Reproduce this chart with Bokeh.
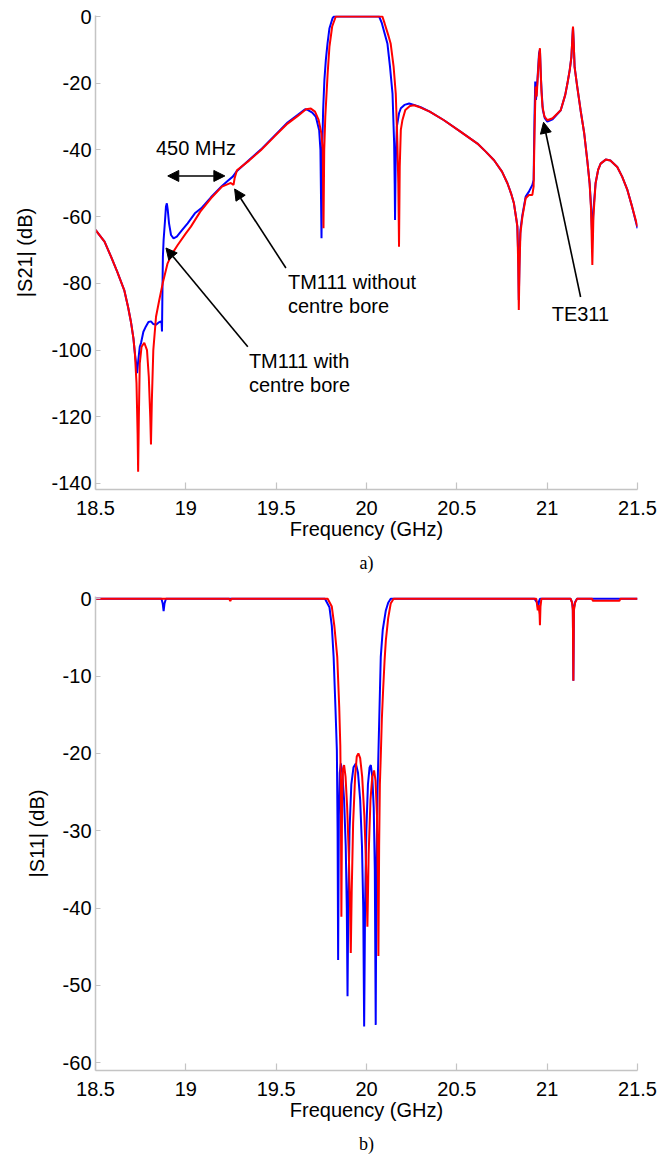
from bokeh.plotting import figure
from bokeh.layouts import column
from bokeh.models import Range1d, FixedTicker, NumeralTickFormatter, Label, Arrow, NormalHead
from bokeh.embed import file_html
from bokeh.resources import INLINE

# ---------------- data ----------------
x_ticks = [18.5, 19, 19.5, 20, 20.5, 21, 21.5]
s21_ticks = [0, -20, -40, -60, -80, -100, -120, -140]
s11_ticks = [0, -10, -20, -30, -40, -50, -60]

# |S21| with centre bore (blue)
s21_blue_f = [18.50, 18.55, 18.586, 18.62, 18.659, 18.68, 18.696, 18.71, 18.718, 18.725, 18.730, 18.737,
              18.745, 18.752, 18.765, 18.779, 18.793, 18.807, 18.820, 18.835, 18.848, 18.862, 18.866, 18.868,
              18.870, 18.873, 18.877, 18.885, 18.890, 18.895, 18.900, 18.907, 18.918, 18.932, 18.95, 18.98,
              19.01, 19.05, 19.085, 19.139, 19.20, 19.231, 19.26, 19.283, 19.35, 19.415, 19.49, 19.563, 19.62,
              19.660, 19.674, 19.700, 19.720, 19.738, 19.745, 19.751, 19.755, 19.760, 19.767, 19.775, 19.784,
              19.795, 19.812, 19.82, 20.070, 20.085, 20.10, 20.116, 20.130, 20.144, 20.153, 20.156, 20.158,
              20.161, 20.168, 20.180, 20.190, 20.210, 20.236, 20.263, 20.30, 20.35, 20.429, 20.52, 20.614,
              20.66, 20.706, 20.75, 20.78, 20.80, 20.816, 20.83, 20.835, 20.840, 20.843, 20.847, 20.852,
              20.863, 20.881, 20.899, 20.918, 20.925, 20.930, 20.934, 20.938, 20.945, 20.955, 20.960, 20.965,
              20.970, 20.976, 20.987, 21.001, 21.03, 21.075, 21.10, 21.112, 21.125, 21.134, 21.140, 21.143,
              21.147, 21.152, 21.165, 21.185, 21.205, 21.222, 21.235, 21.243, 21.250, 21.256, 21.268, 21.282,
              21.296, 21.324, 21.35, 21.388, 21.415, 21.444, 21.47, 21.50]
s21_blue_db = [-64.0, -67.5, -72.0, -76.5, -82.0, -87.0, -91.5, -96.5, -101.0, -104.0, -106.9, -103.0,
               -99.0, -97.9, -94.5, -92.9, -91.6, -91.4, -92.2, -92.4, -91.8, -91.4, -92.0, -94.4,
               -85.0, -72.0, -67.0, -61.0, -57.0, -56.0, -58.0, -62.0, -65.5, -66.5, -66.0, -64.0,
               -62.0, -59.0, -57.5, -54.2, -50.8, -49.3, -48.0, -46.3, -43.0, -39.9, -35.8, -31.8, -29.5,
               -27.8, -28.0, -28.8, -30.1, -34.1, -40.0, -66.5, -40.0, -28.0, -19.0, -13.0, -8.2,
               -3.5, -0.5, 0.0, 0.0, -2.0, -5.0, -8.2, -15.0, -23.1, -38.1, -50.0, -61.0,
               -45.0, -33.0, -29.0, -27.5, -26.5, -26.1, -26.5, -27.2, -28.5, -31.1, -34.5, -38.1,
               -40.5, -43.1, -46.5, -50.0, -53.0, -56.0, -61.0, -63.0, -72.0, -85.0, -72.0, -64.0,
               -59.5, -54.0, -52.5, -50.5, -49.0, -30.0, -19.5, -25.0, -20.0, -11.0, -10.0, -18.0,
               -23.0, -28.0, -30.5, -31.5, -30.8, -28.1, -23.5, -20.1, -16.0, -12.2, -6.0, -3.2,
               -8.0, -15.2, -20.5, -28.1, -35.0, -43.1, -50.0, -57.0, -67.0, -58.0, -50.0, -46.0,
               -44.1, -42.9, -43.2, -45.1, -48.0, -52.0, -57.0, -63.5]

# |S21| without centre bore (red)
s21_red_f = [18.50, 18.55, 18.586, 18.62, 18.659, 18.68, 18.696, 18.71, 18.718, 18.727, 18.733, 18.736,
             18.740, 18.745, 18.755, 18.77, 18.785, 18.795, 18.803, 18.807, 18.812, 18.82, 18.835, 18.853,
             18.872, 18.899, 18.925, 18.955, 19.00, 19.028, 19.08, 19.139, 19.20, 19.249, 19.264, 19.270,
             19.283, 19.35, 19.415, 19.49, 19.563, 19.62, 19.665, 19.692, 19.715, 19.735, 19.750, 19.758,
             19.762, 19.766, 19.772, 19.785, 19.795, 19.81, 19.83, 20.088, 20.10, 20.12, 20.134, 20.150,
             20.162, 20.171, 20.176, 20.180, 20.184, 20.190, 20.199, 20.215, 20.240, 20.263, 20.30, 20.35,
             20.429, 20.52, 20.614, 20.66, 20.706, 20.75, 20.78, 20.80, 20.816, 20.83, 20.835, 20.840,
             20.843, 20.847, 20.852, 20.863, 20.881, 20.899, 20.918, 20.925, 20.930, 20.936, 20.942, 20.948,
             20.955, 20.960, 20.964, 20.968, 20.974, 20.985, 21.001, 21.03, 21.075, 21.10, 21.112, 21.125,
             21.134, 21.140, 21.143, 21.147, 21.152, 21.165, 21.185, 21.205, 21.222, 21.235, 21.243, 21.250,
             21.256, 21.268, 21.282, 21.296, 21.324, 21.35, 21.388, 21.415, 21.444, 21.47, 21.50]
s21_red_db = [-64.0, -67.5, -72.0, -76.5, -82.0, -87.0, -91.5, -96.5, -101.0, -110.0, -125.0, -136.5,
              -120.0, -104.0, -99.0, -97.8, -100.0, -108.0, -120.0, -128.3, -115.0, -100.0, -90.0, -85.0,
              -80.0, -74.0, -71.0, -68.5, -65.0, -63.0, -58.5, -54.5, -51.0, -49.9, -50.5, -48.5,
              -46.1, -43.2, -40.1, -36.0, -32.1, -29.8, -27.8, -27.6, -28.5, -31.0, -35.0, -40.0,
              -63.5, -40.0, -30.0, -17.0, -9.0, -3.0, 0.0, 0.0, -2.0, -5.5, -8.2, -15.0,
              -23.1, -38.1, -50.0, -69.0, -45.0, -34.0, -31.0, -28.0, -26.8, -26.6, -27.3, -28.5,
              -31.1, -34.5, -38.1, -40.5, -43.1, -46.5, -50.0, -53.0, -56.0, -61.0, -63.0, -75.0,
              -88.0, -75.0, -65.0, -60.0, -54.5, -53.5, -53.5, -51.0, -35.0, -21.0, -24.0, -18.0,
              -12.0, -9.5, -16.0, -22.0, -27.0, -30.0, -31.1, -30.5, -28.1, -23.5, -20.1, -16.0,
              -12.2, -6.0, -3.0, -8.0, -15.2, -20.5, -28.1, -35.0, -43.1, -50.0, -58.0, -74.5,
              -60.0, -50.0, -46.0, -44.1, -42.9, -43.2, -45.1, -48.0, -52.0, -57.0, -63.0]

# |S11| with centre bore (blue)
s11_blue_f = [18.50, 18.865, 18.872, 18.877, 18.882, 18.89, 19.77, 19.795, 19.808, 19.818, 19.828, 19.836,
              19.840, 19.843, 19.847, 19.852, 19.858, 19.866, 19.876, 19.885, 19.891, 19.895, 19.899, 19.906,
              19.916, 19.928, 19.941, 19.953, 19.965, 19.975, 19.982, 19.987, 19.992, 19.999, 20.008, 20.017,
              20.024, 20.032, 20.040, 20.046, 20.051, 20.055, 20.061, 20.070, 20.079, 20.090, 20.107, 20.12,
              20.134, 20.93, 20.945, 20.950, 20.955, 20.96, 21.13, 21.138, 21.142, 21.145, 21.148, 21.155,
              21.165, 21.50]
s11_blue_db = [0.0, 0.0, -0.6, -1.6, -0.6, 0.0, 0.0, -1.1, -3.5, -7.5, -14.0, -19.6,
               -30.0, -46.7, -28.0, -22.5, -21.3, -22.5, -26.0, -32.0, -40.0, -51.4, -40.0, -30.0,
               -24.0, -21.8, -21.3, -22.5, -26.0, -32.0, -40.0, -55.3, -40.0, -30.0, -24.0, -21.8,
               -21.5, -23.0, -27.0, -35.0, -55.1, -35.0, -24.7, -16.1, -7.5, -4.0, -1.5, -0.5,
               0.0, 0.0, -0.5, -1.2, -0.3, 0.0, 0.0, -0.5, -1.2, -10.6, -1.2, -0.4,
               0.0, 0.0]

# |S11| without centre bore (red)
s11_red_f = [18.50, 19.24, 19.246, 19.252, 19.785, 19.808, 19.822, 19.838, 19.849, 19.855, 19.858, 19.861,
             19.865, 19.870, 19.876, 19.884, 19.893, 19.902, 19.909, 19.913, 19.918, 19.926, 19.937, 19.946,
             19.955, 19.965, 19.976, 19.988, 19.997, 20.005, 20.012, 20.022, 20.032, 20.042, 20.050, 20.058,
             20.063, 20.066, 20.070, 20.074, 20.079, 20.085, 20.092, 20.100, 20.107, 20.12, 20.134, 20.15,
             20.94, 20.948, 20.952, 20.958, 20.960, 20.963, 20.968, 21.13, 21.138, 21.142, 21.145, 21.148,
             21.155, 21.165, 21.25, 21.252, 21.40, 21.405, 21.50]
s11_red_db = [0.0, 0.0, -0.3, 0.0, 0.0, -1.0, -3.5, -7.5, -14.0, -19.0, -25.0, -41.1,
              -26.0, -22.0, -21.5, -23.0, -27.0, -33.0, -40.0, -45.8, -38.0, -29.0, -23.0, -20.4,
              -20.0, -20.6, -23.0, -28.0, -34.0, -42.4, -33.0, -26.0, -23.0, -22.2, -23.5, -28.0,
              -36.0, -46.2, -32.0, -24.0, -20.4, -15.5, -11.8, -8.0, -5.4, -2.5, -0.6, 0.0,
              0.0, -1.5, -0.8, -2.0, -3.4, -1.0, 0.0, 0.0, -0.5, -1.5, -10.6, -1.5,
              -0.5, 0.0, 0.0, -0.25, -0.25, 0.0, 0.0]

# ---------------- styling ----------------
SANS = "Liberation Sans"
SERIF = "Liberation Serif"
BLUE = "#0000FF"
RED = "#FF0000"
AXIS_GREY = "#c4c4c4"


def make_fig(ylo, yhi, yticks, ylabel, caption, top_border, bottom_border):
    p = figure(frame_width=542, frame_height=474,
               min_border_left=95, min_border_right=20,
               min_border_top=top_border, min_border_bottom=bottom_border,
               x_range=Range1d(18.5, 21.5), y_range=Range1d(ylo, yhi),
               output_backend="svg", toolbar_location=None,
               title=caption, title_location="below")
    p.outline_line_color = None
    p.grid.visible = False
    p.background_fill_color = "white"
    p.border_fill_color = "white"

    p.title.align = "center"
    p.title.text_font = SERIF
    p.title.text_font_size = "18px"
    p.title.text_font_style = "normal"
    p.title.text_color = "black"
    p.title.standoff = 17

    for ax in (p.xaxis[0], p.yaxis[0]):
        ax.axis_line_color = AXIS_GREY
        ax.axis_line_width = 1.5
        ax.major_tick_line_color = AXIS_GREY
        ax.major_tick_line_width = 1.2
        ax.major_tick_out = 0
        ax.minor_tick_line_color = None
        ax.major_label_text_font = SANS
        ax.major_label_text_font_size = "20px"
        ax.major_label_text_color = "black"
        ax.axis_label_text_font = SANS
        ax.axis_label_text_font_size = "20px"
        ax.axis_label_text_font_style = "normal"
        ax.axis_label_text_color = "black"

    p.xaxis.ticker = FixedTicker(ticks=x_ticks)
    p.xaxis.formatter = NumeralTickFormatter(format="0.[0]")
    p.xaxis.major_tick_in = 7
    p.xaxis.major_label_standoff = 11
    p.xaxis.axis_label = "Frequency (GHz)"
    p.xaxis.axis_label_standoff = 0

    p.yaxis.ticker = FixedTicker(ticks=yticks)
    p.yaxis.formatter = NumeralTickFormatter(format="0")
    p.yaxis.major_tick_in = 5
    p.yaxis.major_label_standoff = 4
    p.yaxis.axis_label = ylabel
    p.yaxis.axis_label_standoff = 12
    return p


# ---------------- (a) |S21| ----------------
p1 = make_fig(-141.8, 0.3, s21_ticks, "|S21| (dB)", "a)", 15, 99)
p1.line(s21_blue_f, s21_blue_db, line_color=BLUE, line_width=2)
p1.line(s21_red_f, s21_red_db, line_color=RED, line_width=2)

head = dict(size=11, fill_color="black", line_color="black")
p1.add_layout(Arrow(x_start=18.90, y_start=-47.8, x_end=19.216, y_end=-47.8,
                    start=NormalHead(**head), end=NormalHead(**head),
                    line_color="black", line_width=1.6))
p1.add_layout(Arrow(x_start=19.554, y_start=-75.4, x_end=19.27, y_end=-51.7,
                    end=NormalHead(**head), line_color="black", line_width=1.6))
p1.add_layout(Arrow(x_start=19.343, y_start=-99.0, x_end=18.89, y_end=-69.4,
                    end=NormalHead(**head), line_color="black", line_width=1.6))
p1.add_layout(Arrow(x_start=21.185, y_start=-84.1, x_end=20.98, y_end=-31.7,
                    end=NormalHead(**head), line_color="black", line_width=1.6))


def note(p, x, y, text, align="left"):
    p.add_layout(Label(x=x, y=y, text=text, text_font=SANS, text_font_size="20px",
                       text_color="black", text_align=align, text_baseline="middle"))


note(p1, 19.056, -39.5, "450 MHz", "center")
note(p1, 19.565, -79.6, "TM111 without")
note(p1, 19.565, -86.7, "centre bore")
note(p1, 19.349, -103.2, "TM111 with")
note(p1, 19.349, -110.4, "centre bore")
note(p1, 21.025, -89.1, "TE311")

# ---------------- (b) |S11| ----------------
p2 = make_fig(-61.0, 0.3, s11_ticks, "|S11| (dB)", "b)", 8, 88)
p2.line(s11_blue_f, s11_blue_db, line_color=BLUE, line_width=2)
p2.line(s11_red_f, s11_red_db, line_color=RED, line_width=2)

layout = column(p1, p2, spacing=0)
open("out.html", "w").write(file_html(layout, INLINE))
